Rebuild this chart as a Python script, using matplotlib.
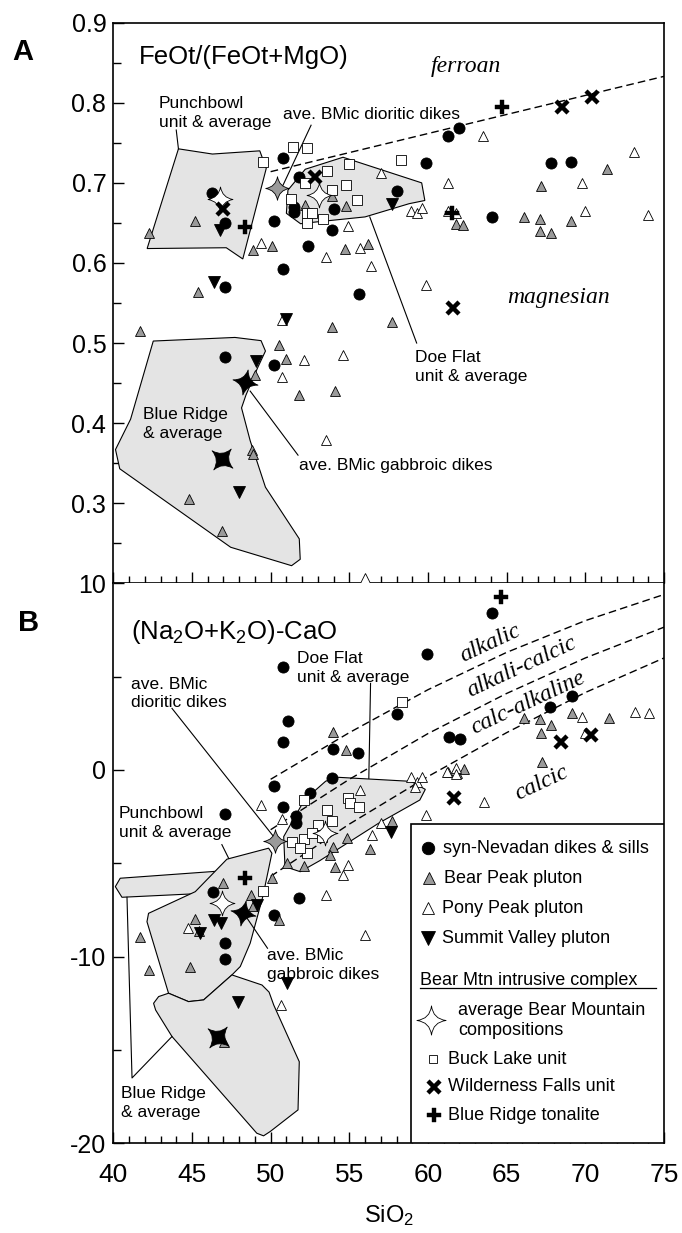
import numpy as np
import matplotlib
matplotlib.use("Agg")
import matplotlib.pyplot as plt
from matplotlib.path import Path
from matplotlib.patches import Polygon, Rectangle
from matplotlib.ticker import MultipleLocator

plt.rcParams['font.family'] = ['Liberation Sans', 'DejaVu Sans']
plt.rcParams['mathtext.default'] = 'regular'
plt.rcParams['axes.unicode_minus'] = False

# ---------------- panel A: FeOt/(FeOt+MgO) vs SiO2 ----------------
sn_a_x = [46.3, 47.1, 47.1, 50.8, 50.2, 51.8, 51.5, 51.5, 50.8, 52.4, 53.9, 54.0, 55.6, 58.0,
          59.9, 61.3, 62.0, 64.1, 67.8, 69.1, 47.1, 50.2]
sn_a_y = [0.6875, 0.65, 0.57, 0.731, 0.653, 0.7075, 0.67, 0.664, 0.592, 0.621, 0.641, 0.667,
          0.561, 0.690, 0.725, 0.758, 0.769, 0.657, 0.725, 0.726, 0.4825, 0.473]

bp_a_x = [42.3, 45.2, 48.9, 50.1, 52.2, 53.9, 54.8, 54.7, 56.2, 61.8, 62.2, 66.1, 67.1, 67.1,
          67.8, 67.2, 69.1, 71.4, 45.4, 41.7, 50.5, 51.0, 49.0, 51.8, 54.1, 53.9, 57.7, 48.8,
          48.9, 44.8, 46.9]
bp_a_y = [0.6375, 0.653, 0.616, 0.621, 0.672, 0.683, 0.671, 0.618, 0.624, 0.649, 0.648, 0.657,
          0.655, 0.64, 0.637, 0.696, 0.652, 0.717, 0.564, 0.515, 0.497, 0.480, 0.460, 0.435,
          0.440, 0.52, 0.526, 0.367, 0.362, 0.305, 0.265]

pp_a_x = [49.4, 53.5, 54.9, 55.7, 56.4, 57.0, 58.9, 59.3, 59.6, 59.9, 61.3, 61.3, 61.8, 63.5,
          69.8, 70.0, 73.1, 74.0, 50.7, 52.1, 54.6, 53.5, 56.0, 50.7]
pp_a_y = [0.625, 0.6075, 0.646, 0.619, 0.596, 0.7125, 0.665, 0.662, 0.669, 0.572, 0.70, 0.665,
          0.662, 0.758, 0.70, 0.665, 0.739, 0.66, 0.4575, 0.479, 0.485, 0.379, 0.206, 0.529]

sv_a_x = [46.8, 57.7, 46.4, 51.0, 49.1, 48.0]
sv_a_y = [0.641, 0.674, 0.576, 0.53, 0.478, 0.314]

bl_a_x = [49.5, 51.4, 52.3, 53.6, 55.0, 58.3, 54.8, 53.9, 52.2, 51.3, 52.3, 52.3, 52.6, 53.3, 55.5]
bl_a_y = [0.726, 0.745, 0.743, 0.715, 0.723, 0.728, 0.697, 0.691, 0.70, 0.680, 0.662, 0.650,
          0.662, 0.655, 0.678]

wf_a_x = [47.0, 52.8, 68.5, 70.4, 61.6]
wf_a_y = [0.667, 0.7075, 0.795, 0.8075, 0.544]

br_a_x = [48.4, 64.7, 61.5]
br_a_y = [0.645, 0.795, 0.663]

# averages: Punchbowl, Doe Flat, dioritic dikes, gabbroic dikes, Blue Ridge
avg_a_x = [46.8, 53.1, 50.4, 48.4, 46.9]
avg_a_y = [0.68, 0.685, 0.693, 0.451, 0.355]

ferroan_x = [50, 75]
ferroan_y = [0.714, 0.833]

punch_a = [(44.14, 0.7425), (46.3, 0.736), (49.31, 0.74), (49.72, 0.718), (48.23, 0.605),
           (47.18, 0.619), (42.15, 0.618)]
doe_a = [(52.2, 0.717), (54.6, 0.732), (59.6, 0.70), (59.8, 0.678), (58.8, 0.674), (56.0, 0.6575),
         (52.8, 0.651), (51.9, 0.649), (51.0, 0.662), (51.1, 0.691)]
blue_a = [(42.54, 0.5025), (47.73, 0.507), (49.39, 0.503), (49.67, 0.49), (49.17, 0.469),
          (48.43, 0.435), (48.15, 0.419), (48.7, 0.378), (49.67, 0.32), (51.82, 0.2555),
          (51.88, 0.230), (51.33, 0.222), (47.46, 0.245), (40.41, 0.343), (40.14, 0.367),
          (41.1, 0.405)]

# ---------------- panel B: MALI (Na2O+K2O-CaO) vs SiO2 ----------------
sn_b_x = [64.09, 59.94, 50.77, 51.10, 50.77, 53.95, 55.58, 58.0, 61.33, 62.04, 67.76, 69.17,
          53.87, 50.22, 52.49, 50.77, 51.6, 51.6, 47.13, 46.35, 51.82, 50.22, 47.13, 47.13]
sn_b_y = [8.39, 6.21, 5.54, 2.64, 1.52, 1.125, 0.89, 2.98, 1.79, 1.64, 3.39, 3.96, -0.45, -0.86,
          -1.21, -1.96, -2.46, -2.86, -2.36, -6.52, -6.875, -7.77, -9.25, -10.125]

bp_b_x = [53.98, 54.78, 66.1, 67.13, 67.85, 69.14, 71.49, 67.2, 67.27, 61.82, 62.32, 61.27, 57.73,
          54.86, 53.95, 53.8, 56.3, 51.05, 52.15, 54.1, 50.08, 46.96, 48.78, 48.9, 50.55, 45.17,
          45.47, 41.71, 42.27, 44.86, 47.04]
bp_b_y = [2.05, 1.07, 2.77, 2.71, 2.41, 3.07, 2.8, 2.0, 0.45, -0.18, 0.04, -0.09, -2.71, -3.66,
          -4.1, -4.55, -4.25, -4.96, -5.14, -5.18, -5.8, -6.07, -6.7, -7.3, -8.04, -8.0, -8.6,
          -8.96, -10.71, -10.57, -14.55]

pp_b_x = [49.39, 55.69, 58.9, 59.3, 59.6, 59.2, 61.2, 61.8, 61.8, 63.54, 59.9, 69.78, 69.97, 73.15,
          74.03, 50.72, 56.99, 56.44, 54.92, 54.59, 53.54, 56.02, 50.66, 44.75]
pp_b_y = [-1.875, -1.07, -0.36, -0.63, -0.39, -0.9, -0.1, 0.09, -0.21, -1.7, -2.41, 2.86, 1.96,
          3.125, 3.04, -2.64, -2.86, -3.48, -5.09, -5.625, -6.7, -8.84, -12.59, -8.48]

sv_b_x = [57.68, 46.41, 46.85, 45.52, 49.12, 51.05, 47.9]
sv_b_y = [-3.3, -8.04, -8.18, -8.75, -7.23, -11.43, -12.41]

bl_b_x = [58.37, 52.1, 53.6, 53.87, 54.9, 55.05, 55.6, 52.98, 52.15, 51.38, 52.29, 51.88, 52.65,
          53.26, 49.53]
bl_b_y = [3.66, -1.61, -2.14, -2.71, -1.52, -1.75, -2.0, -2.95, -3.71, -3.84, -4.43, -4.2, -3.39,
          -3.57, -6.46]

wf_b_x = [68.45, 70.33, 61.63]
wf_b_y = [1.52, 1.875, -1.52]

br_b_x = [64.64, 48.37]
br_b_y = [9.29, -5.8]

avg_b_x = [46.9, 53.48, 50.28, 48.23, 46.63]
avg_b_y = [-7.1, -3.36, -3.79, -7.68, -14.29]

# alkalic / alkali-calcic / calc-alkalic / calcic boundaries
bnd_x = [50, 55, 60, 65, 70, 75]
alkalic_y = [-0.5, 2.0, 4.3, 6.3, 8.0, 9.4]
alkcalcic_y = [-3.2, -0.5, 1.95, 4.1, 6.0, 7.65]
calcalk_y = [-5.7, -2.9, -0.35, 2.0, 4.15, 6.0]

punch_b = [(47.22, -4.78), (49.87, -4.19), (50.08, -4.46), (49.5, -6.79), (48.7, -9.28),
           (48.07, -10.53), (47.54, -10.98), (45.74, -12.32), (44.78, -12.41), (43.51, -11.96),
           (42.14, -8.13), (42.24, -7.68), (45.21, -6.52)]
doe_b = [(54.23, -0.39), (58.92, -0.61), (59.83, -1.04), (59.48, -1.61), (56.85, -2.86),
         (53.12, -4.86), (51.88, -5.45), (50.91, -5.18), (50.83, -3.57), (52.15, -1.6), (53.5, -0.6)]
blue_b = [(47.54, -10.98), (49.45, -11.52), (49.9, -11.9), (50.2, -12.6), (51.82, -15.63),
          (51.74, -18.21), (49.97, -19.37), (49.55, -19.6), (49.12, -19.46), (43.73, -14.28),
          (42.69, -12.86), (42.56, -12.5), (42.88, -12.14), (43.51, -11.96), (44.78, -12.41),
          (45.74, -12.32)]
blue_thin_b = [(40.13, -6.25), (40.44, -5.8), (47.0, -5.4), (46.0, -6.6), (40.55, -6.82)]


def star4(rot=0.0, waist=0.2):
    # four-pointed star with concave sides
    verts, codes = [], []
    for k in range(4):
        a = np.deg2rad(rot) + k * np.pi / 2
        b = a + np.pi / 4
        c = a + np.pi / 2
        if k == 0:
            verts.append((np.sin(a), np.cos(a)))
            codes.append(Path.MOVETO)
        verts += [(waist * np.sin(b), waist * np.cos(b)), (np.sin(c), np.cos(c))]
        codes += [Path.CURVE3, Path.CURVE3]
    verts.append(verts[0])
    codes.append(Path.CLOSEPOLY)
    return Path(verts, codes)


GRAY = '#9a9a9a'
FILL = '#e4e4e4'
STAR = star4()
STAR_G = star4(12, 0.2)
STAR_X = star4(40, 0.2)


def draw_points(ax, sn, bp, pp, sv, bl, wf, br, avg):
    kw = dict(linestyle='none', markeredgecolor='black', markeredgewidth=0.6, zorder=5)
    ax.plot(*sn, marker='o', ms=8, markerfacecolor='black', **kw)
    ax.plot(*bp, marker='^', ms=7.5, markerfacecolor=GRAY, **kw)
    ax.plot(*pp, marker='^', ms=7.5, markerfacecolor='white', clip_on=False, **kw)
    ax.plot(*sv, marker='v', ms=8.5, markerfacecolor='black', **kw)
    ax.plot(*bl, marker='s', ms=7, markerfacecolor='white', **kw)
    ax.plot(*wf, marker='x', ms=9, markeredgewidth=3.2, color='black', linestyle='none', zorder=6)
    ax.plot(*br, marker='P', ms=10, markerfacecolor='black', markeredgecolor='black',
            markeredgewidth=0.3, linestyle='none', zorder=6)
    ax_x, ax_y = avg
    ax.plot(ax_x[0:2], ax_y[0:2], marker=STAR, ms=18, markerfacecolor='white', **kw)
    ax.plot(ax_x[2], ax_y[2], marker=STAR, ms=17, markerfacecolor=GRAY, **kw)
    ax.plot(ax_x[3], ax_y[3], marker=STAR_G, ms=18, markerfacecolor='black', **kw)
    ax.plot(ax_x[4], ax_y[4], marker=STAR_X, ms=15, markerfacecolor='black', **kw)


def field(ax, pts):
    ax.add_patch(Polygon(pts, closed=True, facecolor=FILL, edgecolor='black', linewidth=0.8, zorder=2))


def leader(ax, xs, ys):
    ax.plot(xs, ys, color='black', linewidth=0.8, zorder=4)


fig = plt.figure(figsize=(6.82, 12.33), dpi=100)
axA = fig.add_axes([113.3 / 682, 1 - 583.3 / 1233, 550.7 / 682, 560.6 / 1233])
axB = fig.add_axes([113.3 / 682, 1 - 1143.3 / 1233, 550.7 / 682, 560.0 / 1233])

for ax in (axA, axB):
    ax.set_xlim(40, 75)
    ax.xaxis.set_major_locator(MultipleLocator(5))
    ax.xaxis.set_minor_locator(MultipleLocator(1))
    ax.tick_params(axis='x', which='major', direction='in', length=8, width=1, top=False)
    ax.tick_params(axis='x', which='minor', direction='in', length=5, width=1, top=False)
    ax.tick_params(axis='y', which='major', direction='in', length=8, width=1, right=False,
                   labelsize=18, pad=5)
    ax.tick_params(axis='y', which='minor', direction='in', length=6, width=1, right=False)
    for s in ax.spines.values():
        s.set_linewidth(1.2)

# ---- panel A ----
axA.set_ylim(0.2, 0.9)
axA.set_yticks([0.3, 0.4, 0.5, 0.6, 0.7, 0.8, 0.9])
axA.yaxis.set_minor_locator(MultipleLocator(0.05))
axA.tick_params(axis='x', labelbottom=False)

field(axA, punch_a)
field(axA, doe_a)
field(axA, blue_a)
axA.plot(ferroan_x, ferroan_y, color='black', linestyle=(0, (5.5, 3)), linewidth=1.0, zorder=3)
draw_points(axA, (sn_a_x, sn_a_y), (bp_a_x, bp_a_y), (pp_a_x, pp_a_y), (sv_a_x, sv_a_y),
            (bl_a_x, bl_a_y), (wf_a_x, wf_a_y), (br_a_x, br_a_y), (avg_a_x, avg_a_y))

axA.text(41.65, 0.849, 'FeOt/(FeOt+MgO)', fontsize=18.5, va='baseline')
axA.text(62.4, 0.845, 'ferroan', family='Liberation Serif', style='italic', fontsize=17,
         ha='center', va='center')
axA.text(68.3, 0.557, 'magnesian', family='Liberation Serif', style='italic', fontsize=17,
         ha='center', va='center')
ann = dict(fontsize=12.5, linespacing=1.3)
axA.text(42.9, 0.787, 'Punchbowl\nunit & average', va='center', **ann)
axA.text(50.8, 0.785, 'ave. BMic dioritic dikes', va='center', **ann)
axA.text(59.2, 0.470, 'Doe Flat\nunit & average', va='center', **ann)
axA.text(41.9, 0.399, 'Blue Ridge\n& average', va='center', **ann)
axA.text(51.8, 0.347, 'ave. BMic gabbroic dikes', va='center', **ann)
leader(axA, [44.0, 44.14], [0.766, 0.7425])
leader(axA, [52.57, 50.45], [0.772, 0.683])
leader(axA, [56.3, 59.28], [0.6575, 0.5])
leader(axA, [48.7, 51.74], [0.44, 0.36])

# ---- panel B ----
axB.set_ylim(-20, 10)
axB.set_yticks([-20, -10, 0, 10])
axB.yaxis.set_minor_locator(MultipleLocator(5))
axB.tick_params(axis='x', labelsize=19, pad=14)
axB.spines['top'].set_visible(False)
axB.set_xlabel('SiO$_2$', fontsize=17, labelpad=12)

field(axB, blue_thin_b)
field(axB, punch_b)
field(axB, doe_b)
field(axB, blue_b)
for yy in (alkalic_y, alkcalcic_y, calcalk_y):
    axB.plot(bnd_x, yy, color='black', linestyle=(0, (5.5, 3)), linewidth=1.0, zorder=3)
draw_points(axB, (sn_b_x, sn_b_y), (bp_b_x, bp_b_y), (pp_b_x, pp_b_y), (sv_b_x, sv_b_y),
            (bl_b_x, bl_b_y), (wf_b_x, wf_b_y), (br_b_x, br_b_y), (avg_b_x, avg_b_y))

axB.text(41.1, 7.0, '(Na$_2$O+K$_2$O)-CaO', fontsize=18.5, va='baseline')
ital = dict(family='Liberation Serif', style='italic', fontsize=17, ha='center', va='center',
            rotation=25, rotation_mode='anchor')
axB.text(63.95, 6.8, 'alkalic', **ital)
axB.text(65.97, 5.5, 'alkali-calcic', **ital)
axB.text(66.38, 3.6, 'calc-alkaline', **ital)
axB.text(67.2, -0.7, 'calcic', **ital)

axB.text(51.7, 5.45, 'Doe Flat\nunit & average', va='center', **ann)
axB.text(41.1, 4.1, 'ave. BMic\ndioritic dikes', va='center', **ann)
axB.text(40.35, -2.85, 'Punchbowl\nunit & average', va='center', **ann)
axB.text(49.8, -10.45, 'ave. BMic\ngabbroic dikes', va='center', **ann)
axB.text(40.5, -17.85, 'Blue Ridge\n& average', va='center', **ann)
leader(axB, [56.35, 56.24], [4.64, -0.45])
leader(axB, [43.73, 50.19], [3.3, -3.57])
leader(axB, [46.9, 47.33], [-4.0, -4.73])
leader(axB, [48.29, 49.8], [-7.68, -9.55])
leader(axB, [40.87, 41.19, 43.73], [-6.82, -16.5, -14.28])

# legend box, drawn by hand in axes coordinates
tr = axB.transAxes
axB.add_patch(Rectangle((0.5406, 0.0), 0.4594, 0.5702, transform=tr, facecolor='white',
                        edgecolor='black', linewidth=1.2, zorder=7))
lg = dict(transform=tr, linestyle='none', markeredgecolor='black', markeredgewidth=0.6, zorder=8)
lt = dict(transform=tr, fontsize=13, va='center', zorder=8)
axB.plot(0.572, 0.5268, marker='o', ms=9, markerfacecolor='black', **lg)
axB.text(0.599, 0.5268, 'syn-Nevadan dikes & sills', **lt)
axB.plot(0.574, 0.4732, marker='^', ms=8.5, markerfacecolor=GRAY, **lg)
axB.text(0.600, 0.4732, 'Bear Peak pluton', **lt)
axB.plot(0.571, 0.4196, marker='^', ms=8.5, markerfacecolor='white', **lg)
axB.text(0.597, 0.4196, 'Pony Peak pluton', **lt)
axB.plot(0.571, 0.366, marker='v', ms=9.5, markerfacecolor='black', **lg)
axB.text(0.597, 0.366, 'Summit Valley pluton', **lt)
axB.text(0.5566, 0.2916, 'Bear Mtn intrusive complex', **lt)
axB.plot([0.5566, 0.985], [0.2768, 0.2768], color='black', linewidth=0.9, transform=tr, zorder=8)
axB.plot(0.5764, 0.2195, marker=star4(0, 0.15), ms=21, markerfacecolor='white', **lg)
axB.text(0.6265, 0.2195, 'average Bear Mountain\ncompositions', linespacing=1.25, **lt)
axB.plot(0.581, 0.150, marker='s', ms=6, markerfacecolor='white', **lg)
axB.text(0.6083, 0.150, 'Buck Lake unit', **lt)
axB.plot(0.582, 0.101, marker='x', ms=9, markeredgewidth=3.2, color='black', transform=tr,
         linestyle='none', zorder=8)
axB.text(0.6083, 0.101, 'Wilderness Falls unit', **lt)
axB.plot(0.582, 0.0505, marker='P', ms=10, markerfacecolor='black', markeredgecolor='black',
         markeredgewidth=0.3, transform=tr, linestyle='none', zorder=8)
axB.text(0.6083, 0.0505, 'Blue Ridge tonalite', **lt)

fig.text(22.5 / 682, 1 - 52.5 / 1233, 'A', fontsize=21, fontweight='bold', ha='center', va='center')
fig.text(29 / 682, 1 - 623 / 1233, 'B', fontsize=21, fontweight='bold', ha='center', va='center')

fig.savefig('out.png', dpi=100)
